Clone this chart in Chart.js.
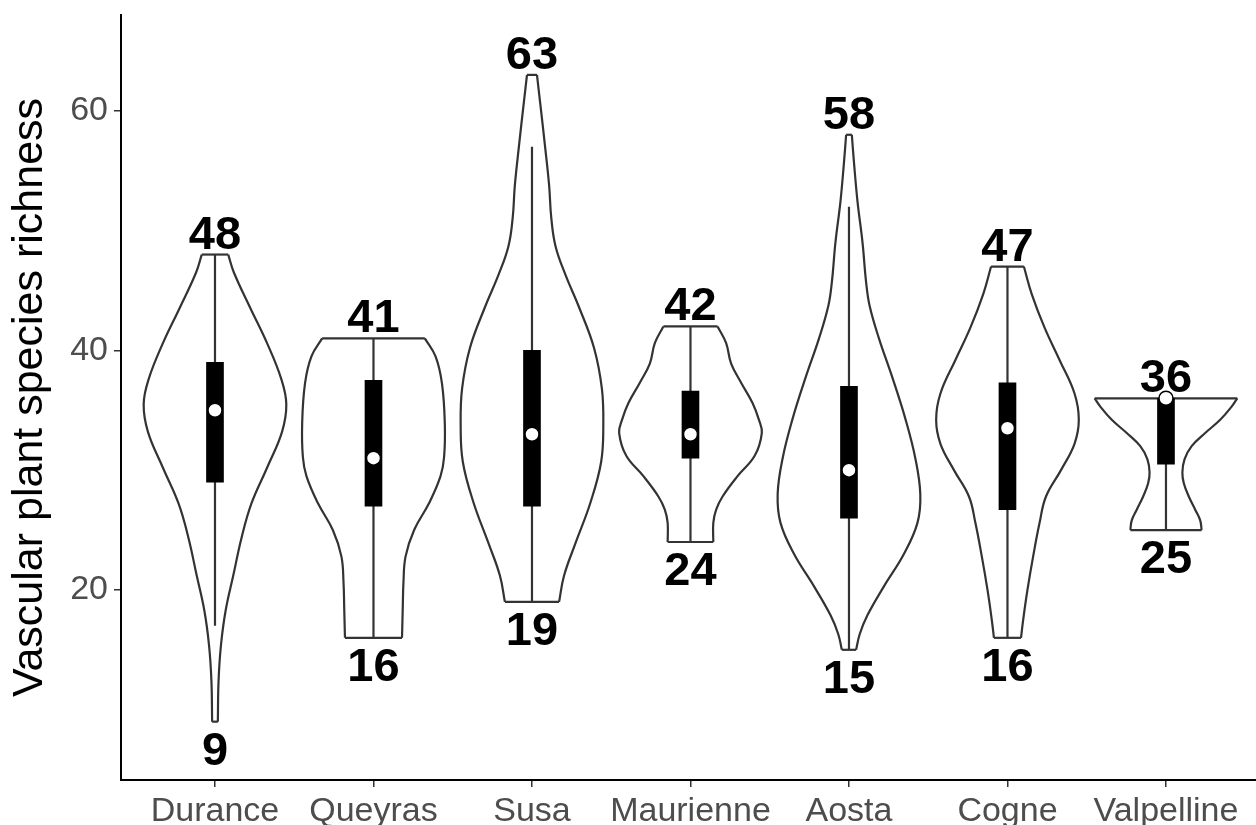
<!DOCTYPE html>
<html>
<head>
<meta charset="utf-8">
<script src="https://cdn.jsdelivr.net/npm/chart.js@4.4.1/dist/chart.umd.min.js"></script>
<style>
  html, body { margin: 0; padding: 0; background: #ffffff; }
  #wrap { width: 1256px; height: 825px; }
</style>
</head>
<body>
<div id="wrap"><canvas id="chart" width="1256" height="825"></canvas></div>
<script>
// Valleys along the x axis
const categories = ['Durance', 'Queyras', 'Susa', 'Maurienne', 'Aosta', 'Cogne', 'Valpelline'];

// Range of species richness per valley (violin ends, printed above / below)
const maxVals = [48, 41, 63, 42, 58, 47, 36];
const minVals = [9, 16, 19, 24, 15, 16, 25];

// Box summary per valley
const q1Vals = [29, 27, 27, 31, 26, 26.7, 30.5];
const q3Vals = [39, 37.5, 40, 36.6, 37, 37.3, 36];
const medianVals = [35, 31, 33, 33, 30, 33.5, 36];
const whiskerLow = [17, 16, 19, 24, 15, 16, 25];
const whiskerHigh = [48, 41, 57, 42, 52, 47, 36];

// Relative violin width at the bottom and top ends
const bottomWidths = [0.04, 0.40, 0.38, 0.32, 0.10, 0.19, 0.50];
const topWidths = [0.186, 0.72, 0.07, 0.38, 0.04, 0.23, 1.0];

// Relative density width (0..1) at interior richness levels, bottom to top
const duranceDensity = [[12.4, 0.05], [15.4, 0.084], [18.3, 0.15], [21.3, 0.26], [24.3, 0.37], [27.2, 0.51], [30.2, 0.73], [33.2, 0.94], [35.5, 1.0], [37.6, 0.93], [40.6, 0.73], [43.6, 0.49], [46.5, 0.265]];
const queyrasDensity = [[18.4, 0.41], [20.6, 0.42], [22.8, 0.45], [25.0, 0.57], [27.25, 0.78], [29.5, 0.94], [31.1, 0.99], [33.9, 1.0], [37.25, 0.96], [39.5, 0.87]];
const susaDensity = [[21.2, 0.45], [23.9, 0.61], [27.3, 0.82], [30.7, 0.97], [33.8, 1.0], [36.8, 0.98], [40.2, 0.87], [43.6, 0.66], [46.3, 0.47], [48.7, 0.33], [51.1, 0.27], [53.8, 0.24], [57.2, 0.18], [60.6, 0.116]];
const maurienneDensity = [[25.6, 0.32], [26.7, 0.36], [27.8, 0.45], [29.5, 0.66], [31.2, 0.90], [33.1, 1.0], [34.2, 0.96], [35.6, 0.87], [37.3, 0.71], [38.9, 0.57], [40.6, 0.50]];
const aostaDensity = [[16.3, 0.15], [17.9, 0.26], [20.3, 0.49], [23.0, 0.77], [25.6, 0.96], [28.0, 1.0], [31.0, 0.93], [34.3, 0.79], [37.7, 0.61], [41.0, 0.42], [43.7, 0.29], [45.7, 0.24], [49.0, 0.19], [52.4, 0.12], [55.7, 0.07]];
const cogneDensity = [[17.5, 0.22], [20.0, 0.28], [22.8, 0.36], [25.6, 0.45], [27.8, 0.54], [30.0, 0.75], [32.2, 0.94], [34.2, 1.0], [36.4, 0.94], [39.2, 0.73], [41.9, 0.52], [44.7, 0.34]];
const valpellineDensity = [[25.8, 0.48], [26.7, 0.41], [27.8, 0.32], [28.9, 0.25], [29.8, 0.23], [30.9, 0.26], [32.0, 0.36], [33.1, 0.55], [34.2, 0.76], [35.3, 0.92]];

const densities = [duranceDensity, queyrasDensity, susaDensity, maurienneDensity, aostaDensity, cogneDensity, valpellineDensity];

// Y axis tick values
const yTicks = [20, 40, 60];

const HALF_WIDTH = 0.45;      // half of the widest violin, in category units
const OUTLINE = '#333333';
const FONT = '"Liberation Sans", Arial, Helvetica, sans-serif';

const datasets = [];

categories.forEach((name, i) => {
  const pos = i + 1;
  const profile = [[minVals[i], bottomWidths[i]], ...densities[i], [maxVals[i], topWidths[i]]];
  const side = (sign) => profile.map(([y, w]) => ({ x: pos + sign * w * HALF_WIDTH, y }));
  const lineStyle = { type: 'line', borderColor: OUTLINE, borderWidth: 2.2, pointRadius: 0, fill: false, order: 3 };
  datasets.push({ ...lineStyle, label: name + ' left', data: side(-1), tension: 0.4 });
  datasets.push({ ...lineStyle, label: name + ' right', data: side(1), tension: 0.4 });
  datasets.push({ ...lineStyle, label: name + ' top', data: [
    { x: pos - topWidths[i] * HALF_WIDTH, y: maxVals[i] }, { x: pos + topWidths[i] * HALF_WIDTH, y: maxVals[i] }], tension: 0 });
  datasets.push({ ...lineStyle, label: name + ' bottom', data: [
    { x: pos - bottomWidths[i] * HALF_WIDTH, y: minVals[i] }, { x: pos + bottomWidths[i] * HALF_WIDTH, y: minVals[i] }], tension: 0 });
  // whisker
  datasets.push({ type: 'line', label: name + ' whisker', data: [
    { x: pos, y: whiskerLow[i] }, { x: pos, y: whiskerHigh[i] }],
    borderColor: OUTLINE, borderWidth: 2.2, pointRadius: 0, fill: false, tension: 0, order: 2 });
});

// interquartile boxes
datasets.push({
  type: 'bar', label: 'IQR',
  data: categories.map((c, i) => ({ x: i + 1, y: [q1Vals[i], q3Vals[i]] })),
  backgroundColor: '#000000', borderWidth: 0, barThickness: 17, order: 1
});

// medians
datasets.push({
  type: 'line', label: 'median', showLine: false,
  data: categories.map((c, i) => ({ x: i + 1, y: medianVals[i] })),
  pointRadius: 7, pointBackgroundColor: '#ffffff', pointBorderColor: '#000000', pointBorderWidth: 1.5,
  order: 0
});

const rangeLabels = {
  id: 'rangeLabels',
  afterDatasetsDraw(chart) {
    const { ctx, scales: { x, y } } = chart;
    ctx.save();
    ctx.font = 'bold 47px ' + FONT;
    ctx.fillStyle = '#000000';
    ctx.textAlign = 'center';
    ctx.textBaseline = 'alphabetic';
    categories.forEach((c, i) => {
      const px = x.getPixelForValue(i + 1);
      ctx.fillText(String(maxVals[i]), px, y.getPixelForValue(maxVals[i]) - 6);
      ctx.fillText(String(minVals[i]), px, y.getPixelForValue(minVals[i]) + 43);
    });
    ctx.restore();
  }
};

const noEdgePadding = (axis) => {
  axis.paddingTop = 0; axis.paddingBottom = 0;
  axis.paddingLeft = 0; axis.paddingRight = 0;
};

new Chart(document.getElementById('chart'), {
  type: 'line',
  data: { datasets },
  options: {
    responsive: false,
    animation: false,
    layout: { autoPadding: false, padding: { top: 15, right: 0, bottom: 0, left: 0 } },
    plugins: { legend: { display: false }, tooltip: { enabled: false } },
    scales: {
      x: {
        type: 'linear',
        min: 0.407, max: 7.568,
        offset: false,
        afterBuildTicks: (axis) => { axis.ticks = categories.map((c, i) => ({ value: i + 1 })); },
        afterFit: (axis) => { axis.height = 45; noEdgePadding(axis); },
        ticks: {
          callback: (v) => categories[v - 1],
          autoSkip: false, maxRotation: 0, minRotation: 0,
          color: '#4d4d4d', font: { family: FONT, size: 34 }, padding: 4
        },
        grid: { offset: false, drawOnChartArea: false, drawTicks: true, tickLength: 7, color: '#333333', lineWidth: 1.5 },
        border: { display: true, color: '#000000', width: 2 }
      },
      y: {
        type: 'linear',
        min: 4.13, max: 68.0,
        afterBuildTicks: (axis) => { axis.ticks = yTicks.map(v => ({ value: v })); },
        afterFit: (axis) => { axis.width = 121; noEdgePadding(axis); },
        ticks: { color: '#4d4d4d', font: { family: FONT, size: 34 }, padding: 6 },
        grid: { drawOnChartArea: false, drawTicks: true, tickLength: 7, color: '#333333', lineWidth: 1.5 },
        border: { display: true, color: '#000000', width: 2 },
        title: {
          display: true, text: 'Vascular plant species richness',
          color: '#000000', font: { family: FONT, size: 43 }, padding: { top: 4, bottom: 0 }
        }
      }
    }
  },
  plugins: [rangeLabels]
});
</script>
</body>
</html>
